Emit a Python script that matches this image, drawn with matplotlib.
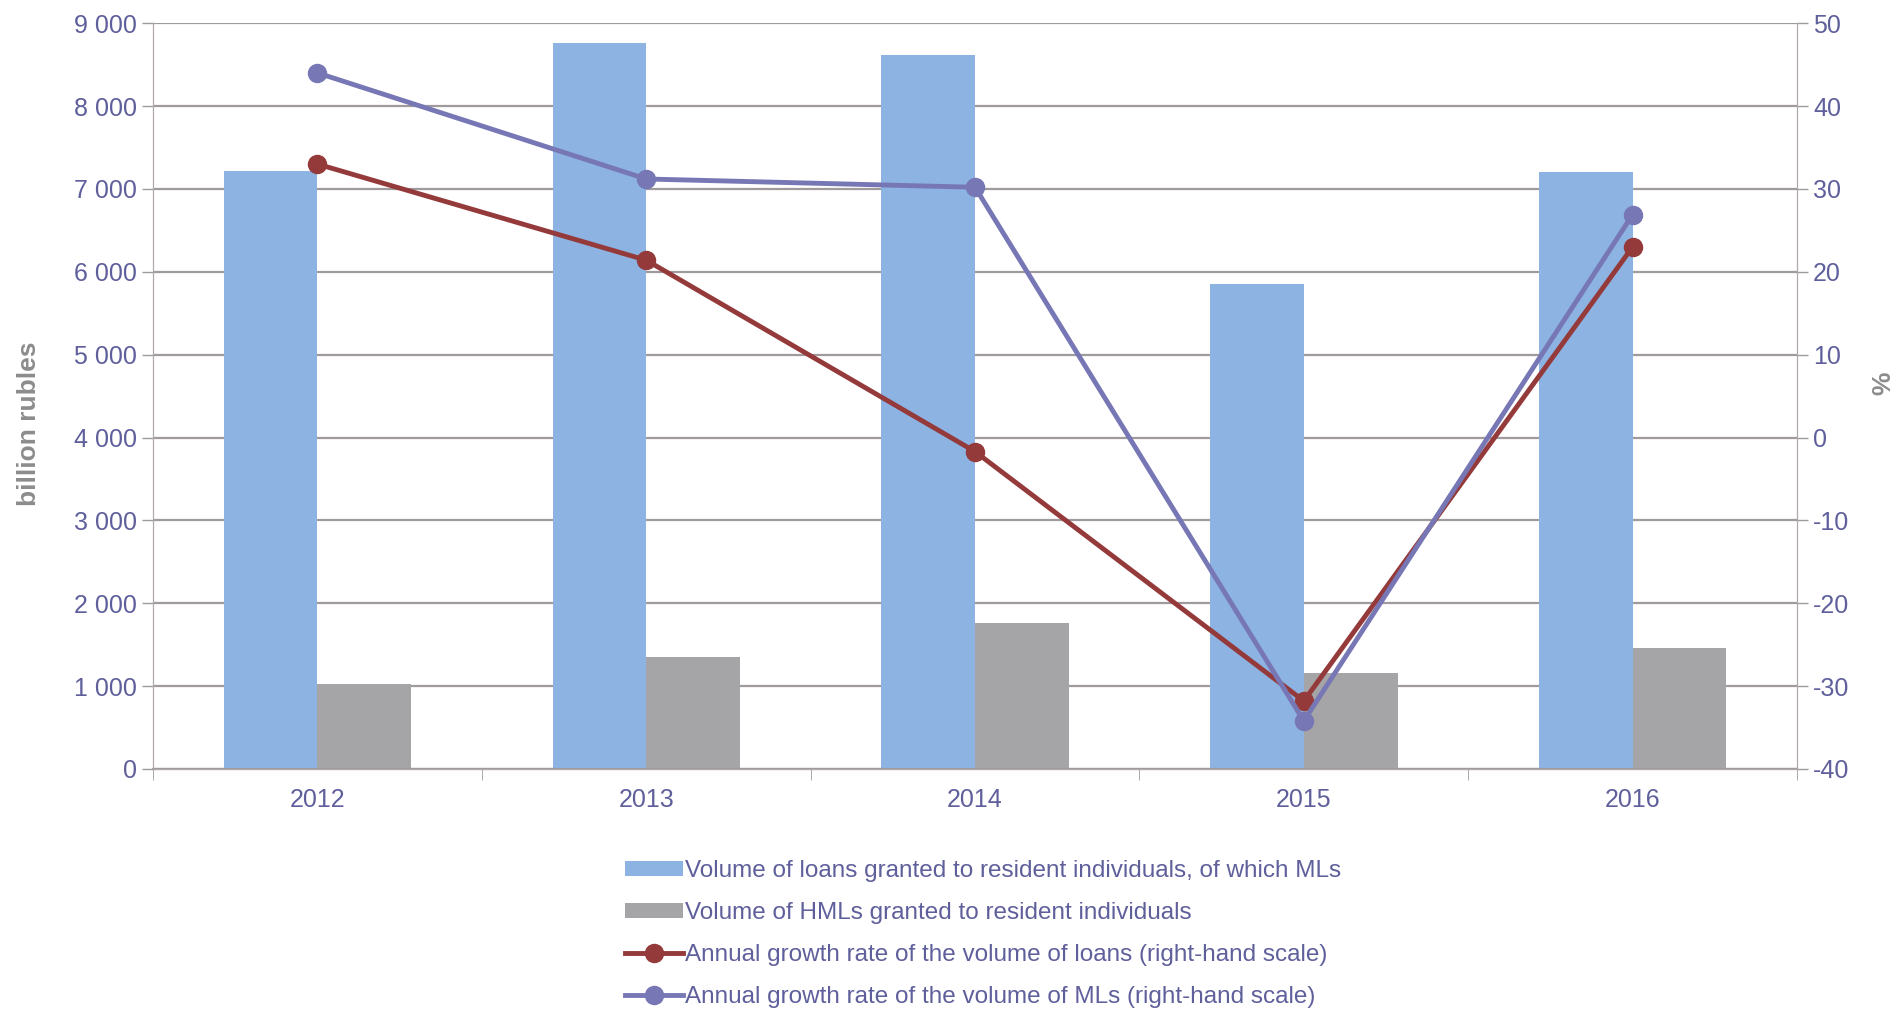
import numpy as np
import matplotlib.pyplot as plt

years = ["2012", "2013", "2014", "2015", "2016"]
loans_volume = [7215, 8766, 8620, 5854, 7200]
hml_volume = [1024, 1346, 1756, 1156, 1463]
loans_growth = [33.0, 21.4, -1.7, -31.8, 23.0]
ml_growth = [44.0, 31.2, 30.2, -34.2, 26.9]

labels = [
    "Volume of loans granted to resident individuals, of which MLs",
    "Volume of HMLs granted to resident individuals",
    "Annual growth rate of the volume of loans (right-hand scale)",
    "Annual growth rate of the volume of MLs (right-hand scale)",
]

txt = "#5f5f9c"
grid = "#a09a9c"
plt.rcParams["font.family"] = ["Liberation Sans", "DejaVu Sans"]
plt.rcParams["axes.unicode_minus"] = False

fig = plt.figure(figsize=(19.04, 10.09), dpi=100)
ax = fig.add_axes([0.0804, 0.2379, 0.8634, 0.7391])
ax2 = ax.twinx()

x = np.arange(len(years))
w = 0.285
b1 = ax.bar(x - w / 2, loans_volume, w, color="#8db3e2", zorder=2)
b2 = ax.bar(x + w / 2, hml_volume, w, color="#a5a5a7", zorder=2)

l1, = ax2.plot(x, loans_growth, color="#953a3a", lw=3.5, marker="o", ms=13, zorder=3)
l2, = ax2.plot(x, ml_growth, color="#7777b5", lw=3.5, marker="o", ms=13, zorder=3)

ax.set_xlim(-0.5, len(years) - 0.5)
ax.set_ylim(0, 9000)
ax.set_yticks(range(0, 9001, 1000))
ax.set_yticklabels([f"{v:,}".replace(",", " ") for v in range(0, 9001, 1000)])
ax2.set_ylim(-40, 50)
ax2.set_yticks(range(-40, 51, 10))

ax.set_xticks(x)
ax.set_xticklabels(years)
ax.set_xticks(np.arange(-0.5, len(years), 1), minor=True)
ax.tick_params(axis="x", which="major", length=0, pad=14)
ax.tick_params(axis="x", which="minor", length=8, color=grid)

ax.grid(axis="y", color=grid, lw=1.6, zorder=0)
ax.set_axisbelow(True)

for a in (ax, ax2):
    a.tick_params(axis="y", labelsize=18, labelcolor=txt, color=grid, length=8, width=1)
    for s in a.spines.values():
        s.set_color("#b0a8ac")
    a.spines["top"].set_visible(False)
ax.tick_params(axis="x", labelsize=18, labelcolor=txt)
ax.spines["bottom"].set_color(grid)
ax.spines["bottom"].set_linewidth(1.6)

ax.set_ylabel("billion rubles", fontsize=19, fontweight="bold", color="#8c8c8c")
ax.yaxis.set_label_coords(-0.068, 0.463)
ax2.set_ylabel("%", fontsize=19, fontweight="bold", color="#8c8c8c")
ax2.yaxis.set_label_coords(1.045, 0.517)

fig.legend([b1, b2, l1, l2], labels, loc="upper left", bbox_to_anchor=(0.323, 0.157),
           frameon=False, fontsize=17.5, labelcolor=txt, handlelength=2.4,
           handleheight=0.6, handletextpad=0.1, labelspacing=0.82, borderaxespad=0)

fig.savefig("out.png", dpi=100)
